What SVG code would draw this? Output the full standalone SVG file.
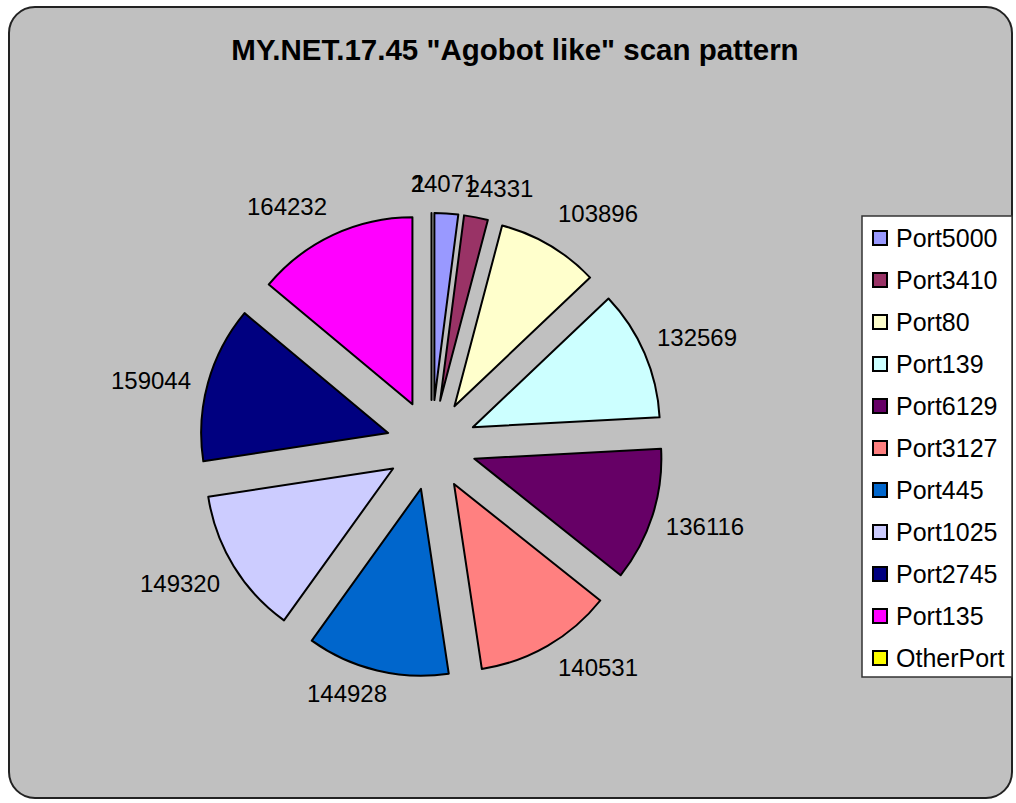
<svg xmlns="http://www.w3.org/2000/svg" width="1016" height="803" viewBox="0 0 1016 803">
  <style>
    .title { font-family: "Liberation Sans", Arial, sans-serif; font-size: 29.5px; font-weight: bold; fill: #000; }
    .lbl { font-family: "Liberation Sans", Arial, sans-serif; font-size: 24px; fill: #000; }
    .leg { font-family: "Liberation Sans", Arial, sans-serif; font-size: 25px; fill: #000; }
    .slice { stroke: #000; stroke-width: 2; stroke-linejoin: round; }
    .sw { stroke: #000; stroke-width: 2; }
  </style>

  <rect x="0" y="0" width="1016" height="803" fill="#ffffff"/>
  <!-- chart area -->
  <rect x="9" y="7" width="1003" height="791" rx="26" ry="26" fill="#c0c0c0" stroke="#222" stroke-width="2"/>

  <text class="title" x="515" y="60" text-anchor="middle">MY.NET.17.45 "Agobot like" scan pattern</text>

  <!-- exploded pie, each slice pushed out along its bisector -->
  <g id="pie">
    <g id="slice-port5000"><path class="slice" fill="#9999ff" d="M434.38,400.09 L434.38,213.09 A187,187 0 0 1 458.30,214.61 Z"/></g>
    <g id="slice-port3410"><path class="slice" fill="#993366" d="M440.14,400.84 L464.06,215.38 A187,187 0 0 1 487.84,220.03 Z"/></g>
    <g id="slice-port80"><path class="slice" fill="#ffffcc" d="M454.44,406.28 L502.14,225.47 A187,187 0 0 1 590.10,277.58 Z"/></g>
    <g id="slice-port139"><path class="slice" fill="#ccffff" d="M472.84,427.23 L608.50,298.53 A187,187 0 0 1 659.58,417.37 Z"/></g>
    <g id="slice-port6129"><path class="slice" fill="#660066" d="M474.36,458.73 L661.10,448.87 A187,187 0 0 1 620.61,575.26 Z"/></g>
    <g id="slice-port3127"><path class="slice" fill="#ff8080" d="M454.01,483.97 L600.26,600.50 A187,187 0 0 1 481.82,668.89 Z"/></g>
    <g id="slice-port445"><path class="slice" fill="#0066cc" d="M420.94,488.74 L448.75,673.66 A187,187 0 0 1 311.79,640.58 Z"/></g>
    <g id="slice-port1025"><path class="slice" fill="#ccccff" d="M393.13,468.51 L283.98,620.35 A187,187 0 0 1 208.29,496.83 Z"/></g>
    <g id="slice-port2745"><path class="slice" fill="#000080" d="M388.15,432.92 L203.31,461.24 A187,187 0 0 1 244.54,313.14 Z"/></g>
    <g id="slice-port135"><path class="slice" fill="#ff00ff" d="M412.43,404.24 L268.82,284.46 A187,187 0 0 1 412.43,217.24 Z"/></g>
    <!-- value 1: a zero-width slice, drawn as its edge only -->
    <g id="slice-otherport"><path class="slice" fill="#ffff00" d="M431.5,400 L431.5,213 Z"/></g>
  </g>

  <!-- data labels -->
  <g id="labels">
    <text class="lbl" x="419" y="192" text-anchor="middle">1</text>
    <text class="lbl" x="444" y="192" text-anchor="middle">24071</text>
    <text class="lbl" x="500" y="197" text-anchor="middle">24331</text>
    <text class="lbl" x="598" y="222" text-anchor="middle">103896</text>
    <text class="lbl" x="697" y="346" text-anchor="middle">132569</text>
    <text class="lbl" x="705" y="535" text-anchor="middle">136116</text>
    <text class="lbl" x="598" y="676" text-anchor="middle">140531</text>
    <text class="lbl" x="347" y="702" text-anchor="middle">144928</text>
    <text class="lbl" x="180" y="592" text-anchor="middle">149320</text>
    <text class="lbl" x="151" y="389" text-anchor="middle">159044</text>
    <text class="lbl" x="287" y="215" text-anchor="middle">164232</text>
  </g>

  <!-- legend -->
  <g id="legend">
    <rect x="862" y="216" width="150" height="461" fill="#ffffff" stroke="#333" stroke-width="1.5"/>
    <rect class="sw" x="873" y="231" width="14" height="14" fill="#9999ff"/>
    <text class="leg" x="896" y="247">Port5000</text>
    <rect class="sw" x="873" y="273" width="14" height="14" fill="#993366"/>
    <text class="leg" x="896" y="289">Port3410</text>
    <rect class="sw" x="873" y="315" width="14" height="14" fill="#ffffcc"/>
    <text class="leg" x="896" y="331">Port80</text>
    <rect class="sw" x="873" y="357" width="14" height="14" fill="#ccffff"/>
    <text class="leg" x="896" y="373">Port139</text>
    <rect class="sw" x="873" y="399" width="14" height="14" fill="#660066"/>
    <text class="leg" x="896" y="415">Port6129</text>
    <rect class="sw" x="873" y="441" width="14" height="14" fill="#ff8080"/>
    <text class="leg" x="896" y="457">Port3127</text>
    <rect class="sw" x="873" y="483" width="14" height="14" fill="#0066cc"/>
    <text class="leg" x="896" y="499">Port445</text>
    <rect class="sw" x="873" y="525" width="14" height="14" fill="#ccccff"/>
    <text class="leg" x="896" y="541">Port1025</text>
    <rect class="sw" x="873" y="567" width="14" height="14" fill="#000080"/>
    <text class="leg" x="896" y="583">Port2745</text>
    <rect class="sw" x="873" y="609" width="14" height="14" fill="#ff00ff"/>
    <text class="leg" x="896" y="625">Port135</text>
    <rect class="sw" x="873" y="651" width="14" height="14" fill="#ffff00"/>
    <text class="leg" x="896" y="667">OtherPort</text>
  </g>
</svg>
